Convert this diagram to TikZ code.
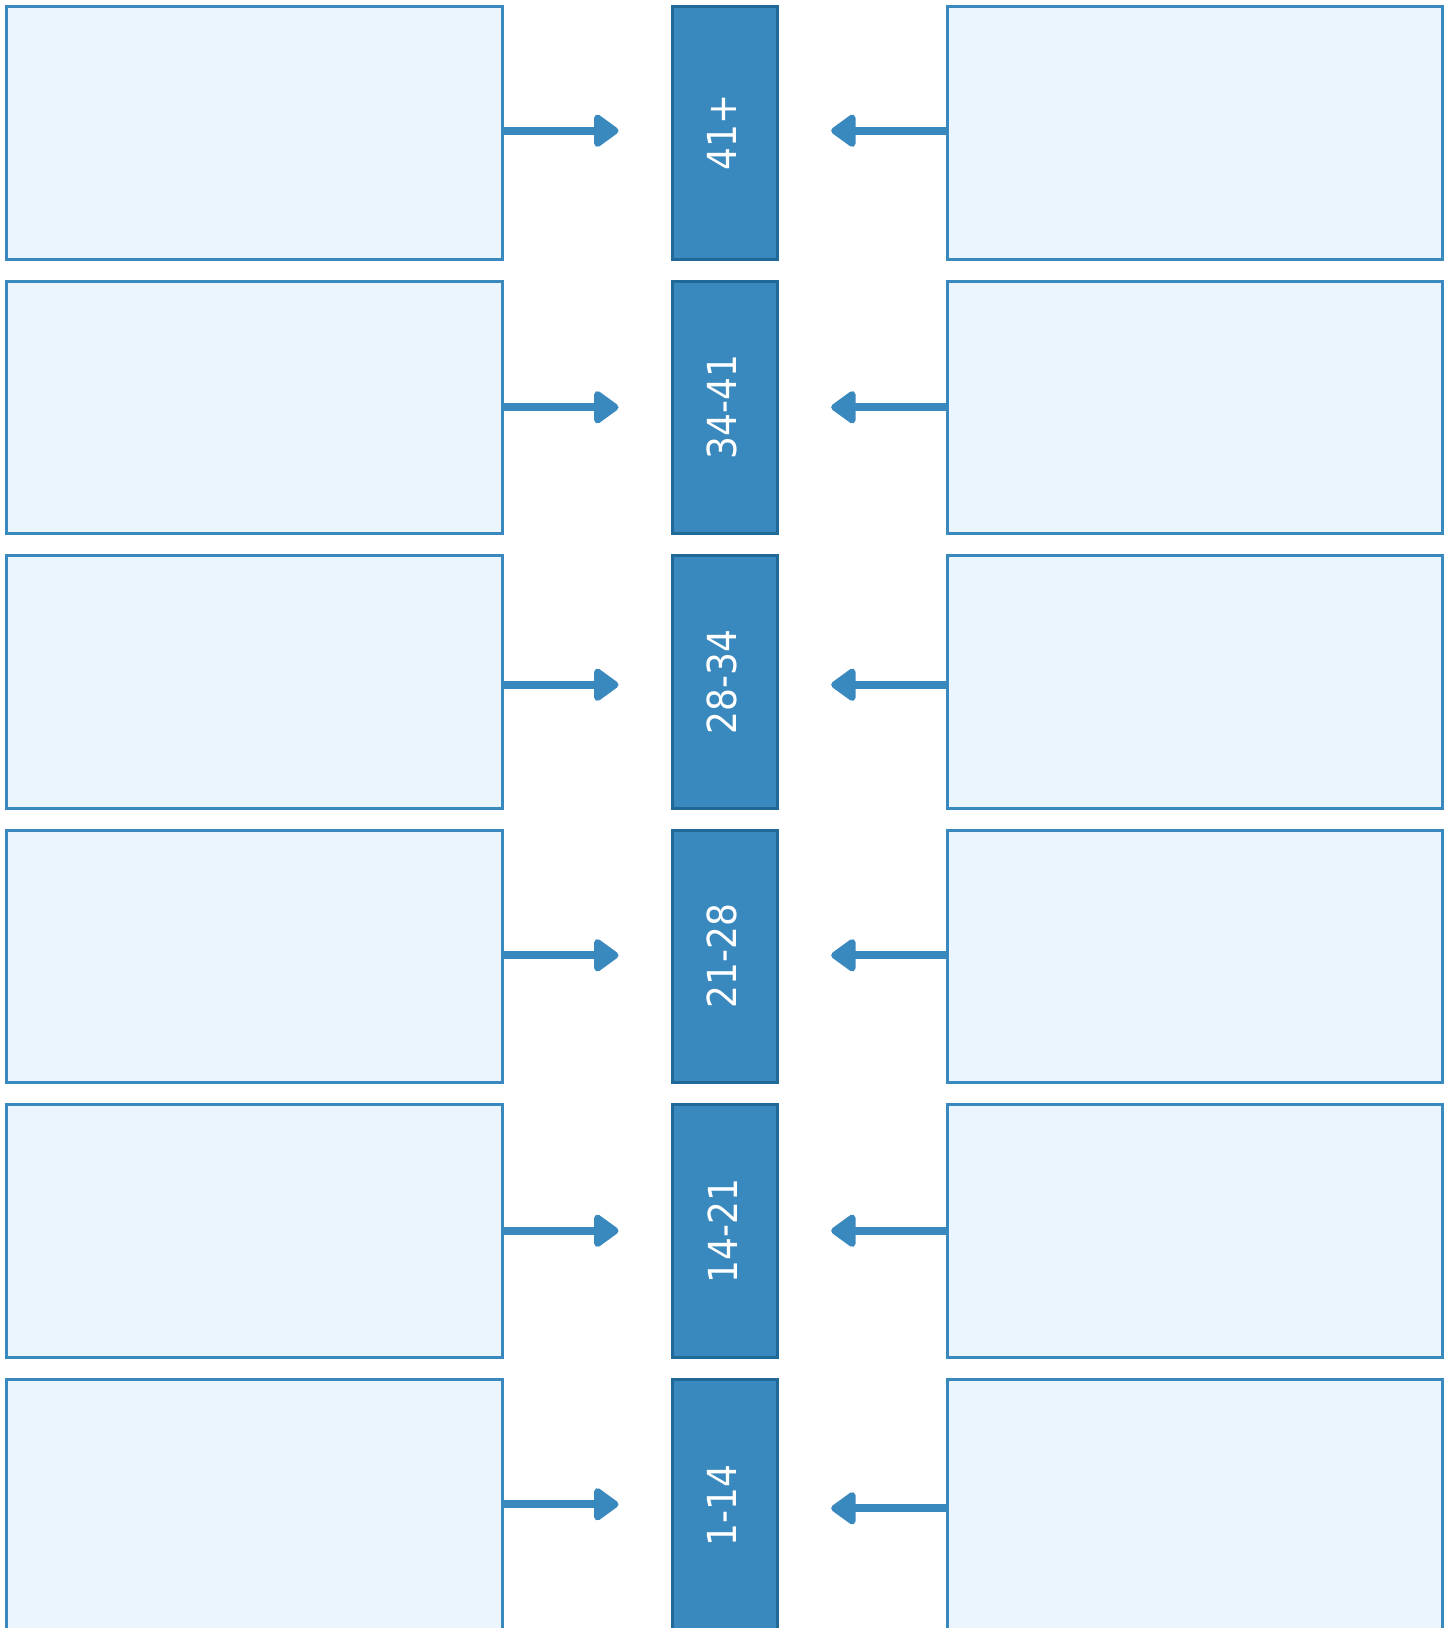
\documentclass[tikz,border=0pt]{standalone}
\usepackage{fontspec}
\setmainfont{DejaVu Sans}
\newfontfamily\condfont{DejaVu Sans Condensed}
\usetikzlibrary{arrows.meta}
\definecolor{boxfill}{HTML}{EBF5FE}
\definecolor{boxline}{HTML}{3A89BE}
\definecolor{agefill}{HTML}{3A89BE}
\definecolor{ageline}{HTML}{1F6898}
\begin{document}
\begin{tikzpicture}[x=1pt,y=-1pt,
  sidebox/.style={draw=boxline, fill=boxfill, line width=3pt, minimum width=495.5pt, minimum height=252.5pt, inner sep=0pt, outer sep=0pt},
  agebox/.style={draw=ageline, fill=agefill, line width=3pt, minimum width=105.7pt, minimum height=252.5pt, inner sep=0pt, outer sep=0pt},
  agetext/.style={text=white, font=\condfont\fontsize{40}{40}\selectfont, rotate=90, inner sep=0pt},
  arr/.style={draw=boxline, line width=8pt, -{Triangle[length=27pt,width=37pt,round]}, shorten >=53.5pt, shorten <=1.5pt}]
\useasboundingbox (0,0) rectangle (1452,1628);
\clip (0,0) rectangle (1452,1628);
\foreach \lab/\i/\ls/\rs in {41+/1/-2/-2, 34-41/2/0/0, 28-34/3/3/3, 21-28/4/-1/-1, 14-21/5/0/0, 1-14/6/-1/3}{
  \pgfmathsetmacro\yc{132.75+(\i-1)*274.5}
  \node[sidebox] (L\i) at (254.25,\yc) {};
  \node[agebox] (C\i) at (724.85,\yc) {};
  \node[sidebox] (R\i) at (1195,\yc) {};
  \node[agetext] (T\i) at ([xshift=-2.5pt]C\i.center) {\lab};
  \draw[arr] ([yshift=-\ls pt]L\i.east) -- ([yshift=-\ls pt]C\i.west);
  \draw[arr] ([yshift=-\rs pt]R\i.west) -- ([yshift=-\rs pt]C\i.east);
}
\end{tikzpicture}
\end{document}
